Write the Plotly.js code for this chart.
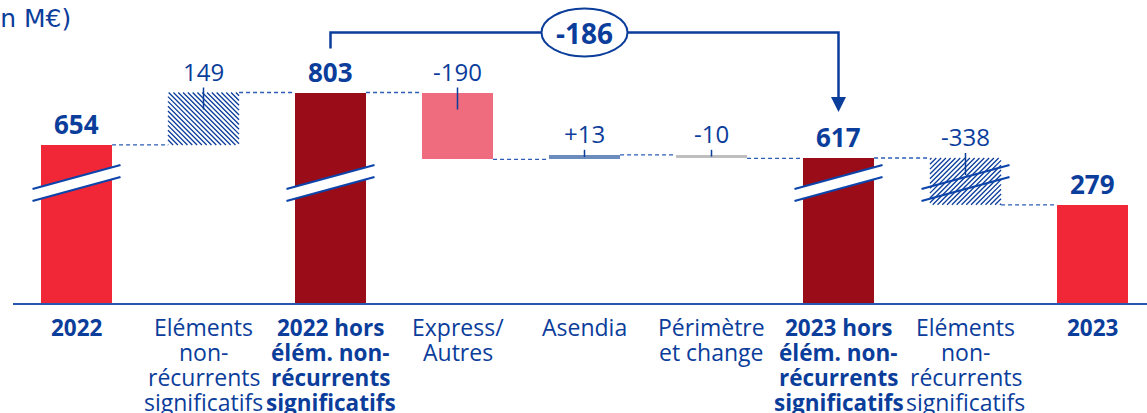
<!DOCTYPE html>
<html><head><meta charset="utf-8">
<script src="https://cdn.plot.ly/plotly-3.0.1.min.js"></script>
<style>html,body{margin:0;padding:0;background:#fff;overflow:hidden}#chart{width:1147px;height:413px}</style>
</head><body><div id="chart"></div>
<script>
// ---------------- data ----------------
const categories = ['2022', 'ENRS 2022', '2022 hors ENRS', 'Express/Autres', 'Asendia', 'Périmètre et change', '2023 hors ENRS', 'ENRS 2023', '2023'];
const values = [654, 149, 803, -190, 13, -10, 617, -338, 279];
const measures = ['total', 'relative', 'total', 'relative', 'relative', 'relative', 'total', 'relative', 'total'];
const valueLabels = ['654', '149', '803', '-190', '+13', '-10', '617', '-338', '279'];
const tickLabels = [
  ['2022'],
  ['Eléments', 'non-', 'récurrents', 'significatifs'],
  ['2022 hors', 'élém. non-', 'récurrents', 'significatifs'],
  ['Express/', 'Autres'],
  ['Asendia'],
  ['Périmètre', 'et change'],
  ['2023 hors', 'élém. non-', 'récurrents', 'significatifs'],
  ['Eléments', 'non-', 'récurrents', 'significatifs'],
  ['2023']
];
const boldLabels = [true, false, true, false, false, false, true, false, true];
const barColors = ['#F12637', '#FFFFFF', '#990C18', '#EF6B7E', '#6C8CBE', '#BEBEBE', '#990C18', '#FFFFFF', '#F12637'];
const barHatch = ['', '\\', '', '', '', '', '', '/', ''];
const bridgeFrom = 2, bridgeTo = 6, bridgeLabel = '-186';
const unitLabel = '(en M€)';

// ---------------- layout constants ----------------
const BLUE = '#0B3D9B';
const W = 1147, H = 413, M = {l: 13, r: 0, t: 0, b: 110};
const plotW = W - M.l - M.r, plotH = H - M.t - M.b;
const PXU = 0.352;                 // pixels per (display) unit
const yMax = plotH / PXU;
const XU = 127;                    // pixels per category
const xRange = [-0.5, -0.5 + plotW / XU];
const BREAK_ABOVE = 400, GAP = 205; // broken axis: values above BREAK_ABOVE are shifted down by GAP
const BREAK_D = 341;               // display level of the break marks
const disp = v => (v > BREAK_ABOVE ? v - GAP : v);
const py = p => p / PXU;           // pixel distance -> display units
const px = p => p / XU;            // pixel distance -> category units
const HALF = 0.28;                 // bar half width (category units)
const HALF_PX = HALF * XU;

// running levels
let run = 0;
const lo = [], hi = [], endLvl = [];
values.forEach((v, i) => {
  let a, b;
  if (measures[i] === 'total') { a = 0; b = v; run = v; }
  else { a = run; b = run + v; run = b; }
  lo.push(disp(Math.min(a, b))); hi.push(disp(Math.max(a, b))); endLvl.push(disp(run));
});

const trace = {
  type: 'bar', x: categories, base: lo, y: hi.map((h, i) => h - lo[i]),
  width: HALF * 2, hoverinfo: 'skip',
  marker: {color: barColors, line: {width: 0}}
};

const shapes = [];
// hatching (drawn as diagonal line paths clipped to the bar)
values.forEach((v, i) => {
  const dir = barHatch[i];
  if (!dir) return;
  const hpx = (hi[i] - lo[i]) * PXU, S = 4.8;
  let d = '';
  for (let c = -HALF_PX - hpx; c <= hpx + HALF_PX; c += S) {
    let u0, u1;
    if (dir === '/') { u0 = Math.max(-HALF_PX, -c); u1 = Math.min(HALF_PX, hpx - c); }
    else { u0 = Math.max(-HALF_PX, c - hpx); u1 = Math.min(HALF_PX, c); }
    if (u1 - u0 < 0.3) continue;
    const vv = u => (dir === '/' ? u + c : -u + c);
    d += `M${(i + px(u0)).toFixed(5)},${(lo[i] + py(vv(u0))).toFixed(3)} L${(i + px(u1)).toFixed(5)},${(lo[i] + py(vv(u1))).toFixed(3)} `;
  }
  shapes.push({type: 'path', xref: 'x', yref: 'y', path: d, line: {color: BLUE, width: 1.3}});
});
// connectors
for (let i = 0; i < categories.length - 1; i++) {
  shapes.push({type: 'line', xref: 'x', yref: 'y', x0: i + HALF, x1: i + 1 - HALF, y0: endLvl[i], y1: endLvl[i],
    line: {color: '#2D5CB6', width: 1.3, dash: '4px,3px'}});
}
// label tick lines for variation bars
values.forEach((v, i) => {
  if (measures[i] !== 'relative') return;
  const hpx = (hi[i] - lo[i]) * PXU;
  shapes.push({type: 'line', xref: 'x', yref: 'y', x0: i, x1: i, y0: hi[i] + py(5), y1: hi[i] - py(Math.min(17, hpx / 2)),
    line: {color: BLUE, width: 1.5}});
});
// break marks
values.forEach((v, i) => {
  if (!(lo[i] < BREAK_D && hi[i] > BREAK_D)) return;
  const X = d => i + px(d), Y = d => BREAK_D + py(d);
  if (!barHatch[i]) {
    shapes.push({type: 'path', xref: 'x', yref: 'y',
      path: `M${X(-44)},${Y(-6)} L${X(44)},${Y(18)} L${X(44)},${Y(6)} L${X(-44)},${Y(-18)} Z`,
      fillcolor: '#FFFFFF', line: {width: 0}});
  }
  shapes.push({type: 'line', xref: 'x', yref: 'y', x0: X(-44), y0: Y(-6), x1: X(44), y1: Y(18), line: {color: '#0D44AA', width: 2.2}});
  shapes.push({type: 'line', xref: 'x', yref: 'y', x0: X(-44), y0: Y(-18), x1: X(44), y1: Y(6), line: {color: '#0D44AA', width: 2.2}});
});
// bridge
const yTop = hi[bridgeFrom] + py(60);
const yStart = hi[bridgeFrom] + py(44);
const yTip = hi[bridgeTo] + py(46);
const yArrow = yTip + py(15);
shapes.push({type: 'path', xref: 'x', yref: 'y',
  path: `M${bridgeFrom},${yStart} L${bridgeFrom},${yTop} L${bridgeTo},${yTop} L${bridgeTo},${yArrow}`,
  line: {color: BLUE, width: 2.5}});
shapes.push({type: 'path', xref: 'x', yref: 'y',
  path: `M${bridgeTo - px(7.5)},${yArrow} L${bridgeTo + px(7.5)},${yArrow} L${bridgeTo},${yTip} Z`,
  fillcolor: BLUE, line: {width: 0}});
const xMid = (bridgeFrom + bridgeTo) / 2;
shapes.push({type: 'circle', xref: 'x', yref: 'y', x0: xMid - px(43), x1: xMid + px(43), y0: yTop - py(24), y1: yTop + py(24),
  fillcolor: '#FFFFFF', line: {color: BLUE, width: 2}});

const annotations = [];
// value labels
values.forEach((v, i) => {
  const bold = measures[i] === 'total';
  annotations.push({xref: 'x', yref: 'y', x: i, y: hi[i], yanchor: 'middle', yshift: 21, showarrow: false,
    text: bold ? '<b>' + valueLabels[i] + '</b>' : valueLabels[i],
    font: {family: 'Open Sans', size: bold ? 26 : 24, color: BLUE}});
});
// category labels
tickLabels.forEach((lines, i) => {
  lines.forEach((t, r) => {
    annotations.push({xref: 'x', yref: 'paper', x: i, y: 0, yanchor: 'middle', yshift: -(24 + 25 * r), showarrow: false,
      borderpad: 0, text: boldLabels[i] ? '<b>' + t + '</b>' : t,
      font: {family: 'Open Sans', size: boldLabels[i] ? 22.5 : 23, color: BLUE}});
  });
});
annotations.push({xref: 'x', yref: 'y', x: xMid, y: yTop, yanchor: 'middle', showarrow: false,
  text: '<b>' + bridgeLabel + '</b>', font: {family: 'Open Sans', size: 28, color: BLUE}});
annotations.push({xref: 'paper', yref: 'paper', x: (72 - M.l) / plotW, xanchor: 'right', y: 1 - 18 / plotH, yanchor: 'middle',
  showarrow: false, borderpad: 0, text: unitLabel, font: {family: 'DejaVu Sans', size: 25, color: BLUE}});

const layout = {
  width: W, height: H, margin: M, paper_bgcolor: '#FFFFFF', plot_bgcolor: '#FFFFFF',
  showlegend: false, bargap: 0,
  xaxis: {type: 'category', range: xRange, showline: true, linecolor: '#2857B3', linewidth: 2,
    showgrid: false, zeroline: false, ticks: '', showticklabels: false, fixedrange: true},
  yaxis: {range: [0, yMax], visible: false, fixedrange: true},
  shapes: shapes, annotations: annotations
};
Plotly.newPlot('chart', [trace], layout, {staticPlot: true, displayModeBar: false});
</script></body></html>
